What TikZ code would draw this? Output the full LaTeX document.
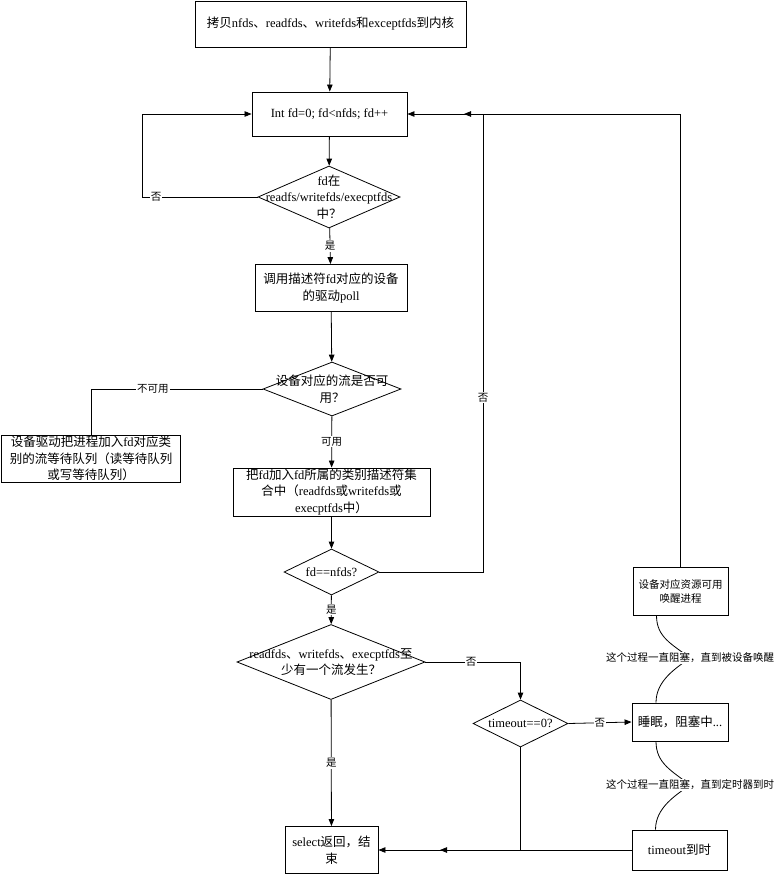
\documentclass[tikz,border=0pt]{standalone}
\usepackage{fontspec}
\setmainfont{Liberation Serif}
\newfontfamily\cjk{Noto Sans CJK SC}
\usetikzlibrary{positioning, shapes.geometric, arrows.meta, calc}

% switch to the CJK font for Chinese characters
\XeTeXinterchartokenstate=1
\newXeTeXintercharclass\cjkclass
\newcount\cjkcode
\def\setcjkrange#1#2{\cjkcode=#1 \loop\XeTeXcharclass\cjkcode=\cjkclass
  \advance\cjkcode by 1 \ifnum\cjkcode<#2 \repeat}
\setcjkrange{"3000}{"3040}
\setcjkrange{"4E00}{"A000}
\setcjkrange{"FF00}{"FFF0}
\XeTeXinterchartoks 0 \cjkclass = {\cjk}
\XeTeXinterchartoks 4095 \cjkclass = {\cjk}
\XeTeXinterchartoks \cjkclass 0 = {\rmfamily}
\XeTeXinterchartoks \cjkclass 4095 = {\rmfamily}

\newcommand\mainfs{\fontsize{12.5}{16.5}\selectfont}
\newcommand\smallfs{\fontsize{10.5}{14}\selectfont}

\begin{document}
\begin{tikzpicture}[x=1pt, y=-1pt, >={Triangle[length=7pt,width=5.5pt]},
    box/.style={draw, line width=0.9pt, align=center, inner sep=0pt, font=\mainfs},
    decision/.style={diamond, draw, line width=0.8pt, inner sep=0pt},
    every label/.style={align=center, font=\mainfs},
    line/.style={line width=0.8pt},
    tag/.style={fill=white, inner sep=1pt, font=\smallfs},
    note/.style={fill=white, inner sep=1pt, font=\smallfs}]
  \useasboundingbox (0,0) rectangle (777,875);

  % main column
  \node[box, minimum width=271pt, minimum height=46pt] (copy) at (330.5,24) {拷贝nfds、readfds、writefds和exceptfds到内核};
  \node[box, minimum width=155pt, minimum height=44pt] (init) at (329.5,114) {Int fd=0; fd<nfds; fd++};
  \node[decision, minimum width=142pt, minimum height=62pt,
        label={center:fd在\\readfs/writefds/execptfds\\中？}] (d1) at (329,197) {};
  \node[box, minimum width=152pt, minimum height=47pt] (poll) at (331,288) {调用描述符fd对应的设备\\的驱动poll};
  \node[decision, minimum width=138pt, minimum height=54pt,
        label={center:设备对应的流是否可\\用？}] (d2) at (332,389) {};
  \node[box, minimum width=179pt, minimum height=47pt] (waitq) at (91,458.5) {设备驱动把进程加入fd对应类\\别的流等待队列（读等待队列\\或写等待队列）};
  \node[box, minimum width=197pt, minimum height=48pt] (addset) at (331.5,492) {把fd加入fd所属的类别描述符集\\合中（readfds或writefds或\\execptfds中）};
  \node[decision, minimum width=95pt, minimum height=46pt,
        label={center:fd==nfds?}] (d3) at (331.5,572) {};
  \node[decision, minimum width=188pt, minimum height=75pt,
        label={center:readfds、writefds、execptfds至\\少有一个流发生？}] (d4) at (331,662) {};
  \node[box, minimum width=93pt, minimum height=47pt] (ret) at (331.5,850) {select返回，结\\束};

  % right side
  \node[decision, minimum width=95pt, minimum height=47pt,
        label={center:timeout==0?}] (d5) at (520.5,723.5) {};
  \node[box, minimum width=96pt, minimum height=38pt] (sleep) at (680,722) {睡眠，阻塞中...};
  \node[box, minimum width=95pt, minimum height=48pt, font=\smallfs] (wake) at (680.5,591) {设备对应资源可用\\唤醒进程};
  \node[box, minimum width=95pt, minimum height=40pt] (tmo) at (679.5,850) {timeout到时};

  \coordinate (loopL) at (142,197);
  \coordinate (loopR) at (483,572);
  \coordinate (joinT) at (464,114);
  \coordinate (joinB) at (440,850);

  % connectors
  \draw[line,->] (copy) -- (init);
  \draw[line,->] (init) -- (d1);
  \draw[line,->] (d1.west) -- (loopL) |- (init.west);
  \node[tag] (no1) at (156,197) {否};
  \draw[line,->] (d1) -- node[tag] (yes1) {是} (poll);
  \draw[line,->] (poll) -- (d2);
  \draw[line] (d2.west) -| node[tag, pos=0.32] (nouse) {不可用} (waitq.north);
  \draw[line,->] (d2) -- node[tag] (use) {可用} (addset);
  \draw[line,->] (addset) -- (d3);
  \draw[line,->] (d3.east) -- (loopR) |- node[tag, pos=0.19] (no3) {否} (init.east);
  \draw[line,->] (wake.north) |- (joinT);
  \draw[line,->] (d3) -- node[tag] (yes3) {是} (d4);
  \draw[line,->] (d4.east) -| node[tag, pos=0.24] (no4) {否} (d5.north);
  \draw[line,->] (d4) -- node[tag] (yes4) {是} (ret);
  \draw[line,->] (d5.east) -- node[tag] (no5) {否} (sleep.west);
  \draw[line,->] (d5.south) |- (ret.east);
  \draw[line,->] (tmo.west) -- (joinB);

  % blocking notes
  \draw[line] ($(wake.south)+(-24,0)$) .. controls +(0,22) and +(-18,-14) .. (690,658)
              .. controls +(-14,10) and +(0,-22) .. ($(sleep.north)+(-24,0)$);
  \node[note] (note1) at (690,658) {这个过程一直阻塞，直到被设备唤醒};
  \draw[line] ($(sleep.south)+(-24,0)$) .. controls +(0,22) and +(-18,-14) .. (690,785)
              .. controls +(-14,10) and +(0,-22) .. ($(tmo.north)+(-24,0)$);
  \node[note] (note2) at (690,785) {这个过程一直阻塞，直到定时器到时};
\end{tikzpicture}
\end{document}
